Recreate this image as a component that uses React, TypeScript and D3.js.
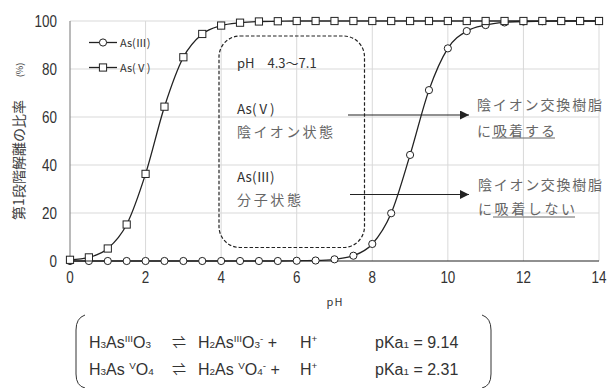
import React from 'react'
import * as d3 from 'd3'

const phValues = [0, 0.5, 1, 1.5, 2, 2.5, 3, 3.5, 4, 4.5, 5, 5.5, 6, 6.5, 7, 7.5, 8, 8.5, 9, 9.5, 10, 10.5, 11, 11.5, 12, 12.5, 13, 13.5, 14]
const as3Values = [0, 0, 0, 0, 0, 0, 0, 0, 0, 0, 0, 0, 0.1, 0.2, 0.7, 2.2, 7.1, 19.9, 44.2, 71.2, 88.6, 95.8, 98.3, 99.4, 99.8, 99.9, 100, 100, 100]
const as5Values = [0.5, 1.5, 5.2, 15.2, 36.3, 64.3, 84.9, 94.6, 98.1, 99.3, 99.8, 99.9, 100, 100, 100, 100, 100, 100, 100, 100, 100, 100, 100, 100, 100, 100, 100, 100, 100]
const xTicks = [0, 2, 4, 6, 8, 10, 12, 14]
const yTicks = [0, 20, 40, 60, 80, 100]
const seriesNames = ['As(Ⅲ)', 'As(Ⅴ)']

const W = 607
const H = 388
const margin = { left: 70, right: 8, top: 21, bottom: 127 }

const JP = "'Noto Sans CJK JP', 'Noto Sans', sans-serif"
const LAT = "'Liberation Sans', Arial, sans-serif"
const GRAY = '#666'

function Marker({ kind, cx, cy }) {
  if (kind === 'circle') {
    return <circle cx={cx} cy={cy} r={3.6} fill="#fff" stroke="#222" strokeWidth={1} />
  }
  return <rect x={cx - 3.6} y={cy - 3.6} width={7.2} height={7.2} fill="#fff" stroke="#222" strokeWidth={1} />
}

// chemical formula pieces: [text, 'sub' | 'sup' | undefined]
function Formula({ x, y, parts, size = 16 }) {
  return (
    <text x={x} y={y} fontFamily={LAT} fontSize={size} fill="#333">
      {parts.map(([t, kind], i) => {
        if (kind === 'sub') return <tspan key={i} fontSize={size * 0.62} dy={0}>{t}</tspan>
        if (kind === 'sup') return <tspan key={i} fontSize={size * 0.62} dy={-6.5}>{t}</tspan>
        const prev = parts[i - 1]
        return <tspan key={i} dy={prev && prev[1] === 'sup' ? 6.5 : 0}>{t}</tspan>
      })}
    </text>
  )
}

// condensed numeric tick label
function Num({ x, y, anchor, children }) {
  return (
    <text transform={`translate(${x},${y}) scale(0.84,1)`} textAnchor={anchor} fontFamily={LAT} fontSize={16} fill="#333">
      {children}
    </text>
  )
}

export default function App() {
  const x = d3.scaleLinear().domain([0, 14]).range([margin.left, W - margin.right])
  const y = d3.scaleLinear().domain([0, 100]).range([H - margin.bottom, margin.top])

  const line = d3.line<number>()
    .x((_, i) => x(phValues[i]))
    .y(d => y(d))
    .curve(d3.curveMonotoneX)

  const series = [
    { name: seriesNames[0], values: as3Values, kind: 'circle' },
    { name: seriesNames[1], values: as5Values, kind: 'square' },
  ]

  const eqRows = [
    {
      y: 348,
      left: [['H'], ['3', 'sub'], ['As'], ['III', 'sup'], ['O'], ['3', 'sub']],
      right: [['H'], ['2', 'sub'], ['As'], ['III', 'sup'], ['O'], ['3', 'sub'], ['-', 'sup'], [' +']],
      pka: '9.14',
    },
    {
      y: 375,
      left: [['H'], ['3', 'sub'], ['As '], ['V', 'sup'], ['O'], ['4', 'sub']],
      right: [['H'], ['2', 'sub'], ['As '], ['V', 'sup'], ['O'], ['4', 'sub'], ['-', 'sup'], [' +']],
      pka: '2.31',
    },
  ]

  return (
    <svg width={W} height={H} style={{ position: 'absolute', left: 0, top: 0, background: '#fff' }}>
      <defs>
        <marker id="arrow" viewBox="0 0 10 10" refX={10} refY={5} markerWidth={10} markerHeight={9} markerUnits="userSpaceOnUse" orient="auto">
          <path d="M0,0 L10,5 L0,10 Z" fill="#222" />
        </marker>
      </defs>

      {/* grid */}
      {xTicks.slice(1).map(t => (
        <line key={'gx' + t} x1={x(t)} x2={x(t)} y1={y(0)} y2={y(100)} stroke="#d9d9d9" strokeWidth={1} />
      ))}
      {yTicks.slice(1).map(t => (
        <line key={'gy' + t} x1={x(0)} x2={x(14)} y1={y(t)} y2={y(t)} stroke="#d9d9d9" strokeWidth={1} />
      ))}
      <line x1={x(0)} x2={x(0)} y1={y(0)} y2={y(100)} stroke="#8c8c8c" strokeWidth={1.2} />
      <line x1={x(0)} x2={x(14)} y1={y(0)} y2={y(0)} stroke="#222" strokeWidth={1.2} />

      {/* tick labels */}
      {yTicks.map(t => (
        <Num key={'ty' + t} x={57} y={y(t) + 5.5} anchor="end">{t}</Num>
      ))}
      {xTicks.map(t => (
        <Num key={'tx' + t} x={x(t)} y={282.5} anchor="middle">{t}</Num>
      ))}
      <text x={335} y={306} textAnchor="middle" fontFamily={JP} fontSize={11} letterSpacing={1} fill="#333">pH</text>
      <text transform="translate(24,160) rotate(-90)" textAnchor="middle" fontFamily={JP} fontSize={14} fill="#404040">第1段階解離の比率</text>
      <text transform="translate(23,70) rotate(-90)" textAnchor="middle" fontFamily={JP} fontSize={9} fill="#404040">(%)</text>

      {/* dashed box */}
      <rect x={219} y={36} width={145.5} height={211.5} rx={21} ry={21} fill="none" stroke="#222" strokeWidth={1.2} strokeDasharray="3.5 2" />

      {/* series */}
      {series.map(s => (
        <g key={s.name}>
          <path d={line(s.values) || ''} fill="none" stroke="#222" strokeWidth={1.3} />
          {s.values.map((v, i) => (
            <Marker key={i} kind={s.kind} cx={x(phValues[i])} cy={y(v)} />
          ))}
        </g>
      ))}

      {/* legend */}
      {series.map((s, i) => (
        <g key={'lg' + s.name} transform={`translate(0,${42.5 + i * 25})`}>
          <line x1={89} x2={117} y1={0} y2={0} stroke="#222" strokeWidth={1.3} />
          <Marker kind={s.kind} cx={103} cy={0} />
          <text x={120} y={4} fontFamily={JP} fontSize={11} fill="#333">{s.name}</text>
        </g>
      ))}

      {/* box text */}
      <text x={237} y={68} fontFamily={JP} fontSize={13} fill="#333">pH　4.3〜7.1</text>
      <text x={237} y={114} fontFamily={JP} fontSize={13.5} fill="#333">{seriesNames[1]}</text>
      <text x={237} y={137} fontFamily={JP} fontSize={14} fill={GRAY} textLength={96}>陰イオン状態</text>
      <text x={237} y={182} fontFamily={JP} fontSize={13.5} fill="#333">{seriesNames[0]}</text>
      <text x={237} y={205} fontFamily={JP} fontSize={14} fill={GRAY} textLength={64}>分子状態</text>

      {/* arrows */}
      <line x1={348} x2={469} y1={115} y2={115} stroke="#222" strokeWidth={1.2} markerEnd="url(#arrow)" />
      <line x1={350} x2={469} y1={194.5} y2={194.5} stroke="#222" strokeWidth={1.2} markerEnd="url(#arrow)" />

      <text x={477} y={110} fontFamily={JP} fontSize={14} fill={GRAY} textLength={125}>陰イオン交換樹脂</text>
      <text x={477} y={136} fontFamily={JP} fontSize={14} fill={GRAY} textLength={78}>に吸着する</text>
      <line x1={492} x2={555} y1={138} y2={138} stroke={GRAY} strokeWidth={1} />
      <text x={478} y={190} fontFamily={JP} fontSize={14} fill={GRAY} textLength={124}>陰イオン交換樹脂</text>
      <text x={478} y={214} fontFamily={JP} fontSize={14} fill={GRAY} textLength={97}>に吸着しない</text>
      <line x1={493} x2={575} y1={217} y2={217} stroke={GRAY} strokeWidth={1} />

      {/* equations */}
      <path d="M85,315 Q76,318 76,330 L76,374 Q76,386 85,388" fill="none" stroke="#333" strokeWidth={1} />
      <path d="M482,315 Q491,318 491,330 L491,374 Q491,386 482,388" fill="none" stroke="#333" strokeWidth={1} />
      {eqRows.map((r, i) => (
        <g key={'eq' + i}>
          <Formula x={89} y={r.y} parts={r.left} />
          <text x={172} y={r.y - 1} fontFamily={JP} fontSize={14} fill="#333">⇌</text>
          <Formula x={198} y={r.y} parts={r.right} />
          <Formula x={300} y={r.y} parts={[['H'], ['+', 'sup']]} />
          <Formula x={375} y={r.y} parts={[['pKa'], ['1', 'sub'], [' = ' + r.pka]]} />
        </g>
      ))}
    </svg>
  )
}
